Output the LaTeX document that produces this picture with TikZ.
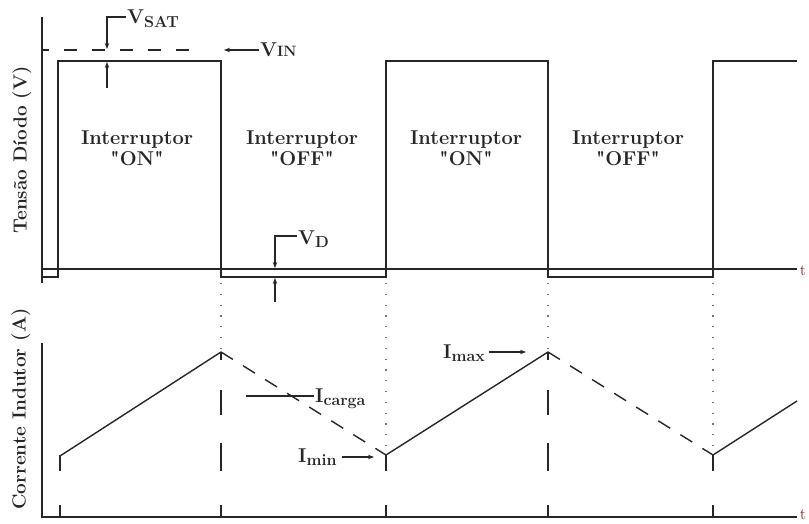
\documentclass[tikz,border=0pt]{standalone}
\usetikzlibrary{arrows.meta}
\newcommand{\lowsub}[1]{\raisebox{-0.4ex}{\fontsize{16}{16}\selectfont #1}}
\newcommand{\smcap}[1]{{\fontsize{15}{15}\selectfont #1}}
\newcommand{\qq}[1]{\textquotedbl#1\textquotedbl}
\begin{document}
\begin{tikzpicture}[x=1pt,y=-1pt,
  axis/.style={line width=1.3pt, black!85},
  wave/.style={line width=1.4pt, black!85, line join=miter},
  lbl/.style={font=\bfseries\fontsize{20}{21}\selectfont, align=center, inner sep=0pt, text=black!85},
  axlbl/.style={font=\bfseries\fontsize{19}{20}\selectfont, rotate=90, inner sep=0pt, text=black!85},
  sym/.style={font=\bfseries\fontsize{20}{21}\selectfont, inner sep=0pt, text=black!85},
  tip/.style={-{Stealth[length=6pt,width=4.5pt]}, line width=1.1pt, black!85},
  dotl/.style={line width=1.1pt, black!55, dash pattern=on 1.2pt off 9.6pt},
  vdash/.style={line width=1.4pt, black!85, dash pattern=on 13pt off 15pt, dash phase=6pt},
  cdash/.style={line width=1.4pt, black!85, dash pattern=on 14pt off 12pt},
  tlbl/.style={font=\fontsize{16}{16}\selectfont, text=red!50!black, inner sep=0pt}]
\useasboundingbox (0,0) rectangle (809,524);

% ---------- top panel ----------
\draw[axis] (42,17) -- (42,283);
\draw[axis] (42,269) -- (797,269);
\node[tlbl, anchor=east] (t1) at (806,271) {t};
\node[axlbl] (ylab1) at (22,150) {Tensão Díodo (V)};

\draw[wave] (42,277) -- (58,277) -- (58,61) -- (221,61) -- (221,277) -- (386,277)
  -- (386,61) -- (548,61) -- (548,277) -- (713,277) -- (713,61) -- (797,61);

\draw[vdash] (42,50) -- (203,50);
\coordinate (vinA) at (259,50);
\coordinate (vinB) at (224,50);
\draw[tip] (vinA) -- (vinB);
\node[sym, anchor=west] (vin) at (260,50) {V\smcap{IN}};

\coordinate (vsatA) at (126,17);
\coordinate (vsatB) at (107,49);
\draw[tip] (vsatA) -- (107,17) -- (vsatB);
\coordinate (vsatC) at (107,88);
\coordinate (vsatD) at (107,62);
\draw[tip] (vsatC) -- (vsatD);
\node[sym, anchor=base west] (vsat) at (127,24) {V\lowsub{SAT}};

\coordinate (vdA) at (297,236);
\coordinate (vdB) at (275,268);
\draw[tip] (vdA) -- (275,236) -- (vdB);
\coordinate (vdC) at (275,302);
\coordinate (vdD) at (275,278);
\draw[tip] (vdC) -- (vdD);
\node[sym, anchor=base west] (vd) at (298,244) {V\lowsub{D}};

\node[lbl] (s1) at (137,148) {Interruptor\\\qq{ON}};
\node[lbl] (s2) at (302,148) {Interruptor\\\qq{OFF}};
\node[lbl] (s3) at (466,148) {Interruptor\\\qq{ON}};
\node[lbl] (s4) at (628,148) {Interruptor\\\qq{OFF}};

% dotted guides
\draw[dotl] (221,283) -- (221,348);
\draw[dotl] (386,283) -- (386,450);
\draw[dotl] (548,283) -- (548,348);
\draw[dotl] (713,283) -- (713,450);

% ---------- bottom panel ----------
\draw[axis] (42,343) -- (42,517) -- (797,517);
\node[tlbl, anchor=east] (t2) at (806,515) {t};
\node[axlbl] (ylab2) at (21,409) {Corrente Indutor (A)};

\foreach \x in {60,221,386,548,713} \draw[wave] (\x,505) -- (\x,517);

\draw[wave] (60,456) -- (221,352);
\draw[cdash] (221,352) -- (386,455);
\draw[wave] (386,455) -- (548,352);
\draw[cdash] (548,352) -- (713,455);
\draw[wave] (713,455) -- (797,401);

\foreach \x in {60,386,713} \draw[wave] (\x,455) -- (\x,471);
\foreach \x in {221,548} {
  \draw[wave] (\x,352) -- (\x,360);
  \draw[wave] (\x,390) -- (\x,415);
  \draw[wave] (\x,443) -- (\x,471);
}

\coordinate (icA) at (246,396);
\coordinate (icB) at (314,396);
\draw[line width=1.3pt, black!85] (icA) -- (icB);
\node[sym, anchor=base west] (icarga) at (315,402) {I\lowsub{carga}};

\node[sym, anchor=base west] (imin) at (298,462) {I\lowsub{min}};
\coordinate (iminB) at (374,457);
\draw[tip] (imin.east |- iminB) ++(5,0) -- (iminB);

\node[sym, anchor=base west] (imax) at (443,358) {I\lowsub{max}};
\coordinate (imaxB) at (526,352);
\draw[tip] (imax.east |- imaxB) ++(4,0) -- (imaxB);
\end{tikzpicture}
\end{document}
